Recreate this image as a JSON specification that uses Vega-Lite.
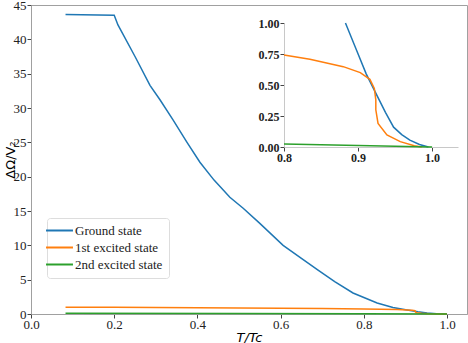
{
  "$schema": "https://vega.github.io/schema/vega-lite/v6.json",
  "width": 436,
  "height": 309,
  "autosize": {"type": "none"},
  "padding": {"left": 31, "top": 5, "right": 1, "bottom": 29},
  "config": {
    "font": "Liberation Serif",
    "view": {"stroke": "#a0a0a0", "strokeWidth": 1},
    "axis": {"grid": false, "labelFlush": false, "labelFont": "Liberation Serif", "labelFontSize": 13, "labelColor": "#222", "tickColor": "#444", "domainColor": "#a0a0a0", "tickSize": 4}
  },
  "data": {"values": [
    {"panel": "main", "series": "Ground state", "T": 0.083, "v": 43.6},
    {"panel": "main", "series": "Ground state", "T": 0.2, "v": 43.5},
    {"panel": "main", "series": "Ground state", "T": 0.209, "v": 42.1},
    {"panel": "main", "series": "Ground state", "T": 0.25, "v": 37.5},
    {"panel": "main", "series": "Ground state", "T": 0.286, "v": 33.3},
    {"panel": "main", "series": "Ground state", "T": 0.31, "v": 31.2},
    {"panel": "main", "series": "Ground state", "T": 0.341, "v": 28.3},
    {"panel": "main", "series": "Ground state", "T": 0.375, "v": 25.0},
    {"panel": "main", "series": "Ground state", "T": 0.406, "v": 22.1},
    {"panel": "main", "series": "Ground state", "T": 0.44, "v": 19.5},
    {"panel": "main", "series": "Ground state", "T": 0.478, "v": 17.0},
    {"panel": "main", "series": "Ground state", "T": 0.51, "v": 15.4},
    {"panel": "main", "series": "Ground state", "T": 0.55, "v": 13.2},
    {"panel": "main", "series": "Ground state", "T": 0.606, "v": 10.0},
    {"panel": "main", "series": "Ground state", "T": 0.65, "v": 8.1},
    {"panel": "main", "series": "Ground state", "T": 0.69, "v": 6.4},
    {"panel": "main", "series": "Ground state", "T": 0.73, "v": 4.7},
    {"panel": "main", "series": "Ground state", "T": 0.774, "v": 3.06},
    {"panel": "main", "series": "Ground state", "T": 0.832, "v": 1.6},
    {"panel": "main", "series": "Ground state", "T": 0.87, "v": 0.95},
    {"panel": "main", "series": "Ground state", "T": 0.904, "v": 0.58},
    {"panel": "main", "series": "Ground state", "T": 0.93, "v": 0.32},
    {"panel": "main", "series": "Ground state", "T": 0.952, "v": 0.15},
    {"panel": "main", "series": "Ground state", "T": 0.975, "v": 0.05},
    {"panel": "main", "series": "Ground state", "T": 0.995, "v": 0.0},
    {"panel": "main", "series": "Ground state", "T": 1.0, "v": 0.0},
    {"panel": "main", "series": "1st excited state", "T": 0.083, "v": 1.0},
    {"panel": "main", "series": "1st excited state", "T": 0.2, "v": 0.98},
    {"panel": "main", "series": "1st excited state", "T": 0.3, "v": 0.95},
    {"panel": "main", "series": "1st excited state", "T": 0.4, "v": 0.92},
    {"panel": "main", "series": "1st excited state", "T": 0.5, "v": 0.89},
    {"panel": "main", "series": "1st excited state", "T": 0.6, "v": 0.85},
    {"panel": "main", "series": "1st excited state", "T": 0.7, "v": 0.8},
    {"panel": "main", "series": "1st excited state", "T": 0.8, "v": 0.74},
    {"panel": "main", "series": "1st excited state", "T": 0.88, "v": 0.65},
    {"panel": "main", "series": "1st excited state", "T": 0.916, "v": 0.55},
    {"panel": "main", "series": "1st excited state", "T": 0.923, "v": 0.47},
    {"panel": "main", "series": "1st excited state", "T": 0.924, "v": 0.3},
    {"panel": "main", "series": "1st excited state", "T": 0.927, "v": 0.19},
    {"panel": "main", "series": "1st excited state", "T": 0.939, "v": 0.1},
    {"panel": "main", "series": "1st excited state", "T": 0.957, "v": 0.04},
    {"panel": "main", "series": "1st excited state", "T": 0.986, "v": 0.0},
    {"panel": "main", "series": "1st excited state", "T": 1.0, "v": 0.0},
    {"panel": "main", "series": "2nd excited state", "T": 0.083, "v": 0.1},
    {"panel": "main", "series": "2nd excited state", "T": 0.5, "v": 0.06},
    {"panel": "main", "series": "2nd excited state", "T": 0.8, "v": 0.03},
    {"panel": "main", "series": "2nd excited state", "T": 1.0, "v": 0.0},
    {"panel": "inset", "series": "Ground state", "T": 0.883, "v": 1.0},
    {"panel": "inset", "series": "Ground state", "T": 0.898, "v": 0.78},
    {"panel": "inset", "series": "Ground state", "T": 0.911, "v": 0.59},
    {"panel": "inset", "series": "Ground state", "T": 0.926, "v": 0.41},
    {"panel": "inset", "series": "Ground state", "T": 0.937, "v": 0.28},
    {"panel": "inset", "series": "Ground state", "T": 0.948, "v": 0.16},
    {"panel": "inset", "series": "Ground state", "T": 0.959, "v": 0.1},
    {"panel": "inset", "series": "Ground state", "T": 0.97, "v": 0.056},
    {"panel": "inset", "series": "Ground state", "T": 0.983, "v": 0.02},
    {"panel": "inset", "series": "Ground state", "T": 0.995, "v": 0.0},
    {"panel": "inset", "series": "1st excited state", "T": 0.8, "v": 0.742},
    {"panel": "inset", "series": "1st excited state", "T": 0.835, "v": 0.707},
    {"panel": "inset", "series": "1st excited state", "T": 0.88, "v": 0.648},
    {"panel": "inset", "series": "1st excited state", "T": 0.903, "v": 0.6},
    {"panel": "inset", "series": "1st excited state", "T": 0.916, "v": 0.546},
    {"panel": "inset", "series": "1st excited state", "T": 0.922, "v": 0.473},
    {"panel": "inset", "series": "1st excited state", "T": 0.924, "v": 0.38},
    {"panel": "inset", "series": "1st excited state", "T": 0.924, "v": 0.3},
    {"panel": "inset", "series": "1st excited state", "T": 0.927, "v": 0.19},
    {"panel": "inset", "series": "1st excited state", "T": 0.939, "v": 0.097},
    {"panel": "inset", "series": "1st excited state", "T": 0.957, "v": 0.043},
    {"panel": "inset", "series": "1st excited state", "T": 0.976, "v": 0.01},
    {"panel": "inset", "series": "1st excited state", "T": 0.986, "v": 0.0},
    {"panel": "inset", "series": "2nd excited state", "T": 0.8, "v": 0.025},
    {"panel": "inset", "series": "2nd excited state", "T": 1.0, "v": 0.0}
  ]},
  "layer": [
    {
      "transform": [{"filter": "datum.panel === 'main'"}],
      "mark": {"type": "line", "strokeWidth": 1.5},
      "encoding": {
        "x": {"field": "T", "type": "quantitative", "scale": {"domain": [0, 1.048], "nice": false},
          "axis": {"orient": "bottom", "values": [0, 0.2, 0.4, 0.6, 0.8, 1.0], "format": ".1f", "labelFont": "Liberation Serif, serif", "labelFontSize": 13, "labelPadding": 0, "title": "T/Tc", "titleFont": "DejaVu Sans", "titleFontStyle": "italic", "titleFontWeight": "normal", "titleFontSize": 13, "titlePadding": 0}},
        "y": {"field": "v", "type": "quantitative", "scale": {"domain": [0, 45], "nice": false},
          "axis": {"orient": "left", "values": [0, 5, 10, 15, 20, 25, 30, 35, 40, 45], "labelFont": "Liberation Serif, serif", "labelFontSize": 13, "labelPadding": 1, "title": "ΔΩ/V₂", "titleFont": "DejaVu Sans", "titleFontWeight": "normal", "titleFontSize": 13, "titleX": -14, "titleBaseline": "bottom"}},
        "color": {"field": "series", "type": "nominal",
          "scale": {"domain": ["Ground state", "1st excited state", "2nd excited state"], "range": ["#1f77b4", "#ff7f0e", "#2ca02c"]},
          "legend": {"title": null, "orient": "none", "legendX": 16, "legendY": 213, "symbolType": "M-3.6,0H3.6", "symbolStrokeWidth": 2, "symbolSize": 56, "labelFont": "Liberation Serif, serif", "labelFontSize": 13, "labelColor": "#222", "labelOffset": 9, "fillColor": "white", "strokeColor": "#dddddd", "cornerRadius": 3, "padding": 6, "rowPadding": 3}},
        "sort": {"field": "panel"}
      }
    },
    {
      "transform": [{"filter": "datum.panel === 'inset'"}],
      "mark": {"type": "line", "strokeWidth": 1.5},
      "encoding": {
        "x": {"field": "T", "type": "quantitative", "scale": {"domain": [0.8, 1.035], "nice": false, "range": [253, 427]},
          "axis": {"orient": "bottom", "offset": -167, "values": [0.8, 0.9, 1.0], "format": ".1f", "title": null, "labelFont": "Liberation Serif, serif", "labelFontWeight": "bold", "labelFontSize": 12, "domainColor": "#c8c8c8", "labelPadding": 1}},
        "y": {"field": "v", "type": "quantitative", "scale": {"domain": [0, 1], "nice": false, "range": [142, 18]},
          "axis": {"orient": "left", "offset": -253, "values": [0, 0.25, 0.5, 0.75, 1.0], "format": ".2f", "title": null, "labelFont": "Liberation Serif, serif", "labelFontWeight": "bold", "labelFontSize": 12, "domainColor": "#c8c8c8", "labelPadding": 1}},
        "color": {"field": "series", "type": "nominal"}
      }
    }
  ],
  "resolve": {"scale": {"x": "independent", "y": "independent"}, "axis": {"x": "independent", "y": "independent"}}
}
